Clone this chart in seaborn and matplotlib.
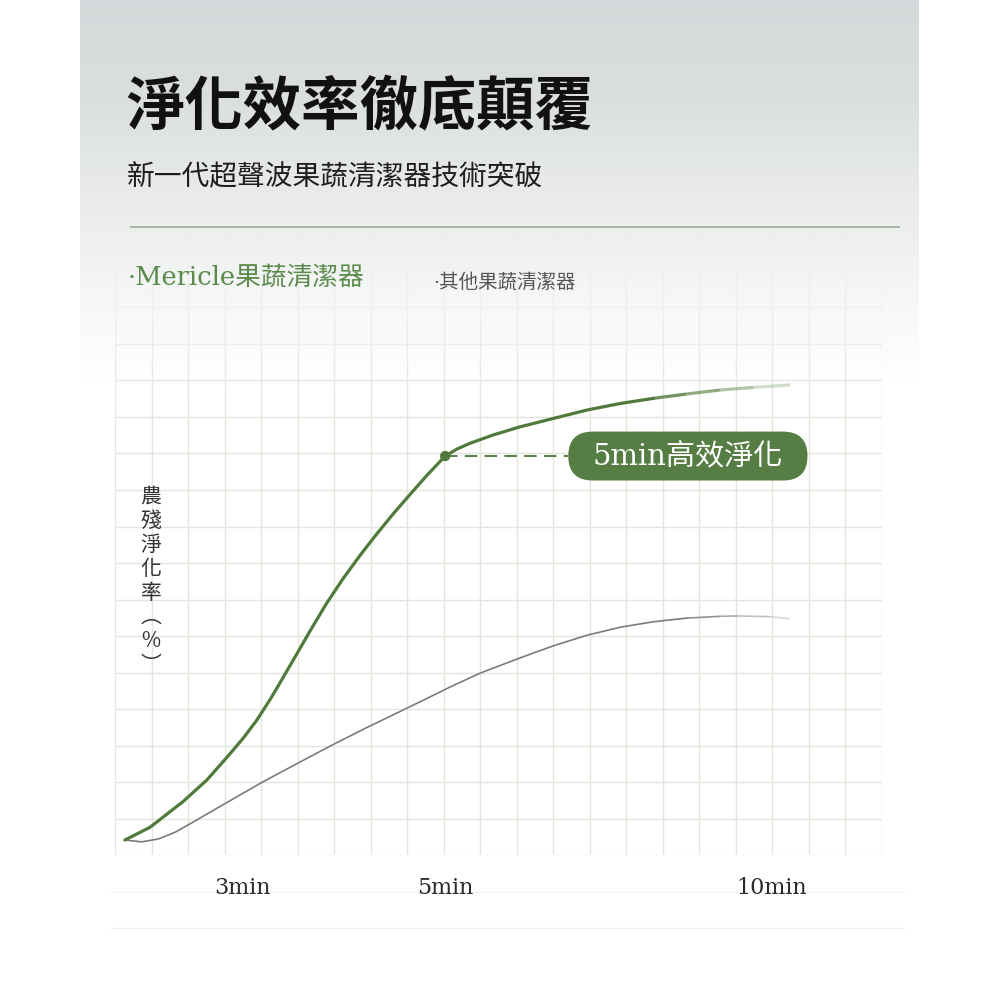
import numpy as np
import pandas as pd
import seaborn as sns
from matplotlib import pyplot as plt
from matplotlib.collections import LineCollection
from matplotlib.patches import FancyBboxPatch

# chart values, in grid cells (x: along the time axis, y: purification rate)
mericle_x = [0.27, 0.96, 1.87, 2.51, 3.06, 3.51, 3.88, 4.24, 4.42, 4.88, 5.33,
             5.79, 6.25, 6.71, 7.17, 7.62, 8.08, 8.53, 9.04, 9.36, 9.72, 10.36,
             11.09, 12.00, 12.92, 13.83, 14.74, 15.65, 16.57, 17.48, 18.48]
mericle_y = [0.41, 0.76, 1.47, 2.05, 2.67, 3.20, 3.69, 4.25, 4.55, 5.34, 6.12,
             6.89, 7.58, 8.21, 8.80, 9.35, 9.88, 10.39, 10.93, 11.12, 11.28, 11.51,
             11.73, 11.96, 12.19, 12.37, 12.51, 12.63, 12.74, 12.81, 12.88]
other_x = [0.27, 0.73, 1.19, 1.64, 2.10, 2.60, 3.24, 4.06, 5.07, 5.98, 6.89,
           7.80, 8.42, 9.17, 9.99, 11.09, 12.00, 12.92, 13.83, 14.74, 15.65,
           16.57, 17.02, 17.94, 18.48]
other_y = [0.41, 0.36, 0.44, 0.62, 0.88, 1.17, 1.54, 2.01, 2.55, 3.03, 3.49,
           3.93, 4.23, 4.60, 4.98, 5.40, 5.73, 6.02, 6.24, 6.39, 6.49,
           6.54, 6.55, 6.53, 6.47]
tick_pos = [3.5, 9.04, 17.97]
tick_labels = ['3min', '5min', '10min']
highlight_x = 9.04
highlight_y = 10.93
highlight_label = '5min高效淨化'

title = '淨化效率徹底顛覆'
subtitle = '新一代超聲波果蔬清潔器技術突破'
legend_a = '·Mericle果蔬清潔器'
legend_b = '·其他果蔬清潔器'
ylabel_chars = ['農', '殘', '淨', '化', '率', '︵', '%', '︶']

GREEN = '#4f7a3b'
PILL = '#567d43'
GRAY = '#7b7b7b'
CJK = ['Noto Sans CJK TC', 'DejaVu Sans']
MIXED = ['DejaVu Serif', 'Noto Sans CJK TC']

sns.set_theme(style='white')
plt.rcParams['font.family'] = CJK

fig = plt.figure(figsize=(10, 10), dpi=100)
fig.patch.set_facecolor('white')

# background in page pixels
bg = fig.add_axes([0, 0, 1, 1], zorder=0)
bg.set_xlim(0, 1000)
bg.set_ylim(1000, 0)
bg.axis('off')


def panel_color(y):
    stops_y = [0, 100, 200, 300, 385, 1000]
    stops_c = np.array([[0.83, 0.85, 0.855], [0.86, 0.875, 0.878],
                        [0.915, 0.925, 0.92], [0.965, 0.97, 0.968],
                        [1, 1, 1], [1, 1, 1]])
    return np.stack([np.interp(y, stops_y, stops_c[:, i]) for i in range(3)], axis=-1)


ys = np.arange(1000)
grad = panel_color(ys)[:, None, :]
bg.imshow(grad, extent=(80, 919, 1000, 0), aspect='auto', zorder=0)
bg.hlines(227, 130, 900, color='#aab5a3', lw=1.4, zorder=1)
bg.hlines([892, 928], 110, 905, color='#f1f2ee', lw=1.0, zorder=1)

# chart axes: 1 unit = one grid cell
ax = fig.add_axes([115 / 1000, 145 / 1000, 767 / 1000, 620.5 / 1000], zorder=1)
ax.set_facecolor('none')
ax.set_xlim(0, 21)
ax.set_ylim(0, 17)
ax.set_xticks(range(22))
ax.set_yticks(range(18))
ax.set_xticklabels([])
ax.set_yticklabels([])
ax.set_xticks(tick_pos, minor=True)
ax.set_xticklabels(tick_labels, minor=True)
ax.tick_params(which='both', length=0)
ax.tick_params(axis='x', which='minor', pad=16, labelsize=16, labelcolor='#2b2b2b')
for lab in ax.get_xticklabels(minor=True):
    lab.set_family(['DejaVu Serif'])
ax.grid(True, which='major', color='#e3e6dc', lw=1.0)
ax.set_axisbelow(True)
for s in ax.spines.values():
    s.set_visible(False)

# fade the grid into the top gradient
fade_rows = np.linspace(234.5, 855, 400)
fade = np.zeros((400, 1, 4))
fade[:, 0, :3] = panel_color(fade_rows)
fade[:, 0, 3] = np.clip((430 - fade_rows) / (430 - 234.5), 0, 1) ** 1.3
ax.imshow(fade, extent=(0, 21, 0, 17), origin='upper', aspect='auto', zorder=1)

df_a = pd.DataFrame({'x': mericle_x, 'y': mericle_y})
df_b = pd.DataFrame({'x': other_x, 'y': other_y})


def draw_fading(df, color, lw, fade_from, end_alpha):
    solid = df[df['x'] <= fade_from]
    sns.lineplot(data=solid, x='x', y='y', color=color, lw=lw, sort=False,
                 estimator=None, ax=ax, zorder=3, legend=False)
    tail = df[df['x'] >= fade_from]
    pts = tail[['x', 'y']].to_numpy()
    segs = np.stack([pts[:-1], pts[1:]], axis=1)
    alphas = np.linspace(1, end_alpha, len(segs) + 1)[1:]
    cols = [(*plt.matplotlib.colors.to_rgb(color), a) for a in alphas]
    ax.add_collection(LineCollection(segs, colors=cols, lw=lw, zorder=3,
                                     capstyle='butt'))


draw_fading(df_b, GRAY, 1.2, 15.65, 0.3)
draw_fading(df_a, GREEN, 2.3, 14.74, 0.25)

ax.set_xlabel('')
ax.set_ylabel('')

# highlight marker, dashed leader and pill
pill_x0, pill_x1 = 12.41, 18.96
pill_h = 1.34
ax.plot([highlight_x, pill_x0], [highlight_y, highlight_y], color='#5b8049',
        lw=1.5, ls=(0, (6, 3.5)), zorder=3)
sns.scatterplot(x=[highlight_x], y=[highlight_y], color=GREEN, s=55,
                edgecolor='none', ax=ax, zorder=4, legend=False)
ax.add_patch(FancyBboxPatch((pill_x0, highlight_y - pill_h / 2), pill_x1 - pill_x0,
                            pill_h, boxstyle=f'round,pad=0,rounding_size={pill_h / 2}',
                            fc=PILL, ec='none', zorder=4))
ax.text((pill_x0 + pill_x1) / 2, highlight_y - 0.02, highlight_label, color='white',
        fontsize=21, ha='center', va='center', family=MIXED, zorder=5)

# page texts
T = bg.transData
fig.text(126, 108, title, transform=T, fontsize=42, fontweight='bold',
         color='#111111', va='center', ha='left', zorder=5)
fig.text(127, 177, subtitle, transform=T, fontsize=20, color='#1e1e1e',
         va='center', ha='left', zorder=5)
fig.text(128, 277, legend_a, transform=T, fontsize=18.5, color='#5b8a4c',
         va='center', ha='left', family=MIXED, zorder=5)
fig.text(433, 282, legend_b, transform=T, fontsize=14, color='#555555',
         va='center', ha='left', family=MIXED, zorder=5)
fig.text(151, 581, '\n'.join(ylabel_chars), transform=T, fontsize=15,
         color='#333333', va='center', ha='center', linespacing=1.12, zorder=5)

fig.savefig('out.png', dpi=100)
